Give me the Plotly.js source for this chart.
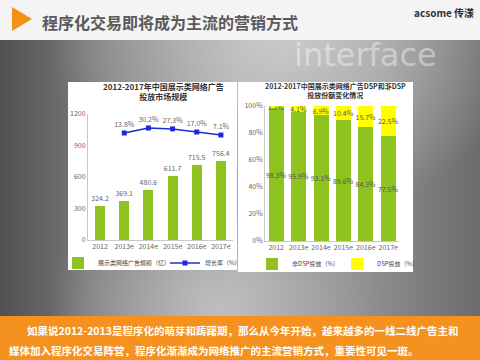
<!DOCTYPE html>
<html>
<head>
<meta charset="utf-8">
<script src="https://cdn.plot.ly/plotly-3.0.1.min.js"></script>
<style>html,body{margin:0;padding:0;background:#fff;}#chart{width:480px;height:360px;}</style>
</head>
<body>
<div id="chart"></div>
<script>
// ---- data ----
const years = ['2012', '2013e', '2014e', '2015e', '2016e', '2017e'];
const marketSize = [324.2, 369.1, 480.6, 611.7, 715.5, 756.4];
const growthYears = ['2013e', '2014e', '2015e', '2016e', '2017e'];
const growthRate = [13.8, 30.2, 27.3, 17.0, 7.1];
const nonDspShare = [98.3, 95.9, 93.1, 89.6, 84.3, 77.5];
const dspShare = [1.7, 4.1, 6.9, 10.4, 15.7, 22.5];
const leftTicks = [0, 300, 600, 900, 1200];
const rightTicks = [0, 20, 40, 60, 80, 100];
const slideTitle = '程序化交易即将成为主流的营销方式';
const leftTitle = ['2012-2017年中国展示类网络广告', '投放市场规模'];
const rightTitle = ['2012-2017中国展示类网络广告DSP和非DSP', '投放份额变化情况'];
const bodyLines = ['如果说2012-2013是程序化的萌芽和踌躇期，那么从今年开始，越来越多的一线二线广告主和',
                   '媒体加入程序化交易阵营，程序化渐渐成为网络推广的主流营销方式，重要性可见一斑。'];

// ---- helpers ----
const W = 480, H = 360;
const px = v => v / W;
const py = v => 1 - v / H;
const FONT = '"Noto Sans CJK SC", "Noto Sans", sans-serif';
const GREEN = '#8dc21f';
const YELLOW = '#ffff00';

const bgSvg = "<svg xmlns='http://www.w3.org/2000/svg' width='480' height='360'>" +
  "<defs>" +
  "<linearGradient id='g' x1='0' y1='0' x2='1' y2='0'>" +
  "<stop offset='0' stop-color='#505050'/><stop offset='0.2' stop-color='#7c7c7c'/>" +
  "<stop offset='0.5' stop-color='#9c9c9c'/><stop offset='0.8' stop-color='#8a8a8a'/>" +
  "<stop offset='1' stop-color='#6c6c6c'/></linearGradient>" +
  "<radialGradient id='r' cx='0.6' cy='0.1' r='0.5'><stop offset='0' stop-color='#d8d8d8' stop-opacity='0.8'/>" +
  "<stop offset='1' stop-color='#d8d8d8' stop-opacity='0'/></radialGradient>" +
  "<radialGradient id='r2' cx='0.45' cy='0.85' r='0.35'><stop offset='0' stop-color='#cfcfcf' stop-opacity='0.7'/>" +
  "<stop offset='1' stop-color='#cfcfcf' stop-opacity='0'/></radialGradient>" +
  "</defs>" +
  "<rect width='480' height='360' fill='url(#g)'/>" +
  "<rect width='480' height='360' fill='url(#r)'/>" +
  "<rect width='480' height='360' fill='url(#r2)'/>" +
  "</svg>";

const traces = [
  {
    type: 'bar', x: years, y: marketSize, xaxis: 'x', yaxis: 'y',
    name: '展示类网络广告规模（亿）', legend: 'legend',
    marker: {color: GREEN}, width: 0.42,
    text: marketSize.map(v => v.toFixed(1)), textposition: 'outside', cliponaxis: false,
    constraintext: 'none', textangle: 0,
    textfont: {size: 7, color: '#666', family: FONT}, hoverinfo: 'none'
  },
  {
    type: 'scatter', x: growthYears, y: growthRate, xaxis: 'x', yaxis: 'y2',
    name: '增长率（%）', legend: 'legend',
    mode: 'lines+markers+text', line: {color: '#1b2bd8', width: 1.5},
    marker: {symbol: 'square', size: 5, color: '#1b2bd8'},
    text: growthRate.map(v => v.toFixed(1) + '%'), textposition: 'top center', cliponaxis: false,
    textfont: {size: 7, color: '#666', family: FONT}, hoverinfo: 'none'
  },
  {
    type: 'bar', x: years, y: nonDspShare, xaxis: 'x2', yaxis: 'y3',
    name: '非DSP投放（%）', legend: 'legend2',
    marker: {color: GREEN}, width: 0.67,
    text: nonDspShare.map(v => v.toFixed(1) + '%'), textposition: 'inside', insidetextanchor: 'middle',
    constraintext: 'none', textangle: 0,
    textfont: {size: 7, color: '#555', family: FONT}, hoverinfo: 'none'
  },
  {
    type: 'bar', x: years, y: dspShare, xaxis: 'x2', yaxis: 'y3',
    name: 'DSP投放（%）', legend: 'legend2',
    marker: {color: YELLOW}, width: 0.67,
    text: dspShare.map(v => v.toFixed(1) + '%'), textposition: 'inside', insidetextanchor: 'middle',
    constraintext: 'none', textangle: 0,
    textfont: {size: 7, color: '#555', family: FONT}, hoverinfo: 'none'
  }
];

const axisCommon = {
  showgrid: false, zeroline: false, showline: true, linecolor: '#c8c8c8', linewidth: 1,
  ticks: '', tickfont: {size: 7, color: '#666', family: FONT}, fixedrange: true
};

const layout = {
  width: W, height: H,
  margin: {l: 0, r: 0, t: 0, b: 0},
  paper_bgcolor: '#8a8a8a', plot_bgcolor: 'rgba(0,0,0,0)',
  barmode: 'stack',
  showlegend: true,
  font: {family: FONT},
  xaxis: Object.assign({}, axisCommon, {domain: [px(88), px(233)], anchor: 'y', type: 'category'}),
  yaxis: Object.assign({}, axisCommon, {domain: [py(240), py(114)], anchor: 'x', range: [0, 1200],
    tickvals: leftTicks, ticktext: leftTicks.map(String)}),
  yaxis2: {overlaying: 'y', range: [-339, 76.4], visible: false, fixedrange: true},
  xaxis2: Object.assign({}, axisCommon, {domain: [px(265), px(399.4)], anchor: 'y3', type: 'category'}),
  yaxis3: Object.assign({}, axisCommon, {domain: [py(241), py(106)], anchor: 'x2', range: [0, 100],
    tickvals: rightTicks, ticktext: rightTicks.map(v => v + '%')}),
  legend: {orientation: 'h', x: px(58), y: py(263), xanchor: 'left', yanchor: 'middle',
    bgcolor: 'rgba(0,0,0,0)', font: {size: 6, color: '#444', family: FONT}, traceorder: 'normal', entrywidth: 62},
  legend2: {orientation: 'h', x: px(252), y: py(264), xanchor: 'left', yanchor: 'middle',
    bgcolor: 'rgba(0,0,0,0)', font: {size: 6, color: '#444', family: FONT}, traceorder: 'normal', entrywidth: 40},
  images: [{source: 'data:image/svg+xml;charset=utf-8,' + encodeURIComponent(bgSvg),
    xref: 'paper', yref: 'paper', x: 0, y: 1, sizex: 1, sizey: 1, sizing: 'stretch', layer: 'below'}],
  shapes: [
    {type: 'rect', xref: 'paper', yref: 'paper', x0: 0, x1: 1, y0: py(40), y1: 1,
      fillcolor: '#f4f4f4', line: {width: 0}, layer: 'below'},
    {type: 'rect', xref: 'paper', yref: 'paper', x0: 0, x1: 1, y0: 0, y1: py(316),
      fillcolor: '#f5911e', line: {width: 0}, layer: 'below'},
    {type: 'rect', xref: 'paper', yref: 'paper', x0: px(68), x1: px(237), y0: py(270), y1: py(82),
      fillcolor: '#ffffff', line: {width: 0}, layer: 'below'},
    {type: 'rect', xref: 'paper', yref: 'paper', x0: px(238), x1: px(413), y0: py(272), y1: py(82),
      fillcolor: '#ffffff', line: {width: 0}, layer: 'below'},
    {type: 'path', xref: 'paper', yref: 'paper', layer: 'below',
      path: 'M' + px(12) + ',' + py(7) + ' L' + px(12) + ',' + py(31) + ' L' + px(32) + ',' + py(19) + ' Z',
      fillcolor: '#f39018', line: {width: 0}}
  ],
  annotations: [
    {text: 'interface', x: px(292), y: py(76), xref: 'paper', yref: 'paper', showarrow: false,
      xanchor: 'left', yanchor: 'bottom', font: {size: 32, color: 'rgba(255,255,255,0.42)', family: 'DejaVu Sans'}},
    {text: '<b>' + slideTitle + '</b>', x: px(40), y: py(22), xref: 'paper', yref: 'paper', showarrow: false,
      xanchor: 'left', yanchor: 'middle', font: {size: 16, color: '#5a5a5a', family: FONT}},
    {text: '<b>acsome 传漾</b>', x: px(476), y: py(13), xref: 'paper', yref: 'paper', showarrow: false,
      xanchor: 'right', yanchor: 'middle', font: {size: 10, color: '#333', family: FONT}},
    {text: '<b>' + leftTitle.join('<br>') + '</b>', x: px(163), y: py(91), xref: 'paper', yref: 'paper', showarrow: false,
      xanchor: 'center', yanchor: 'middle', font: {size: 8, color: '#333', family: FONT}},
    {text: '<b>' + rightTitle.join('<br>') + '</b>', x: px(335), y: py(90), xref: 'paper', yref: 'paper', showarrow: false,
      xanchor: 'center', yanchor: 'middle', font: {size: 7, color: '#333', family: FONT}},
    {text: '<b>' + bodyLines[0] + '</b>', x: px(25), y: py(330), xref: 'paper', yref: 'paper', showarrow: false,
      xanchor: 'left', yanchor: 'middle', font: {size: 10.5, color: '#ffffff', family: FONT}},
    {text: '<b>' + bodyLines[1] + '</b>', x: px(7), y: py(350), xref: 'paper', yref: 'paper', showarrow: false,
      xanchor: 'left', yanchor: 'middle', font: {size: 10.5, color: '#ffffff', family: FONT}}
  ]
};

Plotly.newPlot('chart', traces, layout, {staticPlot: true, displayModeBar: false});
</script>
</body>
</html>
